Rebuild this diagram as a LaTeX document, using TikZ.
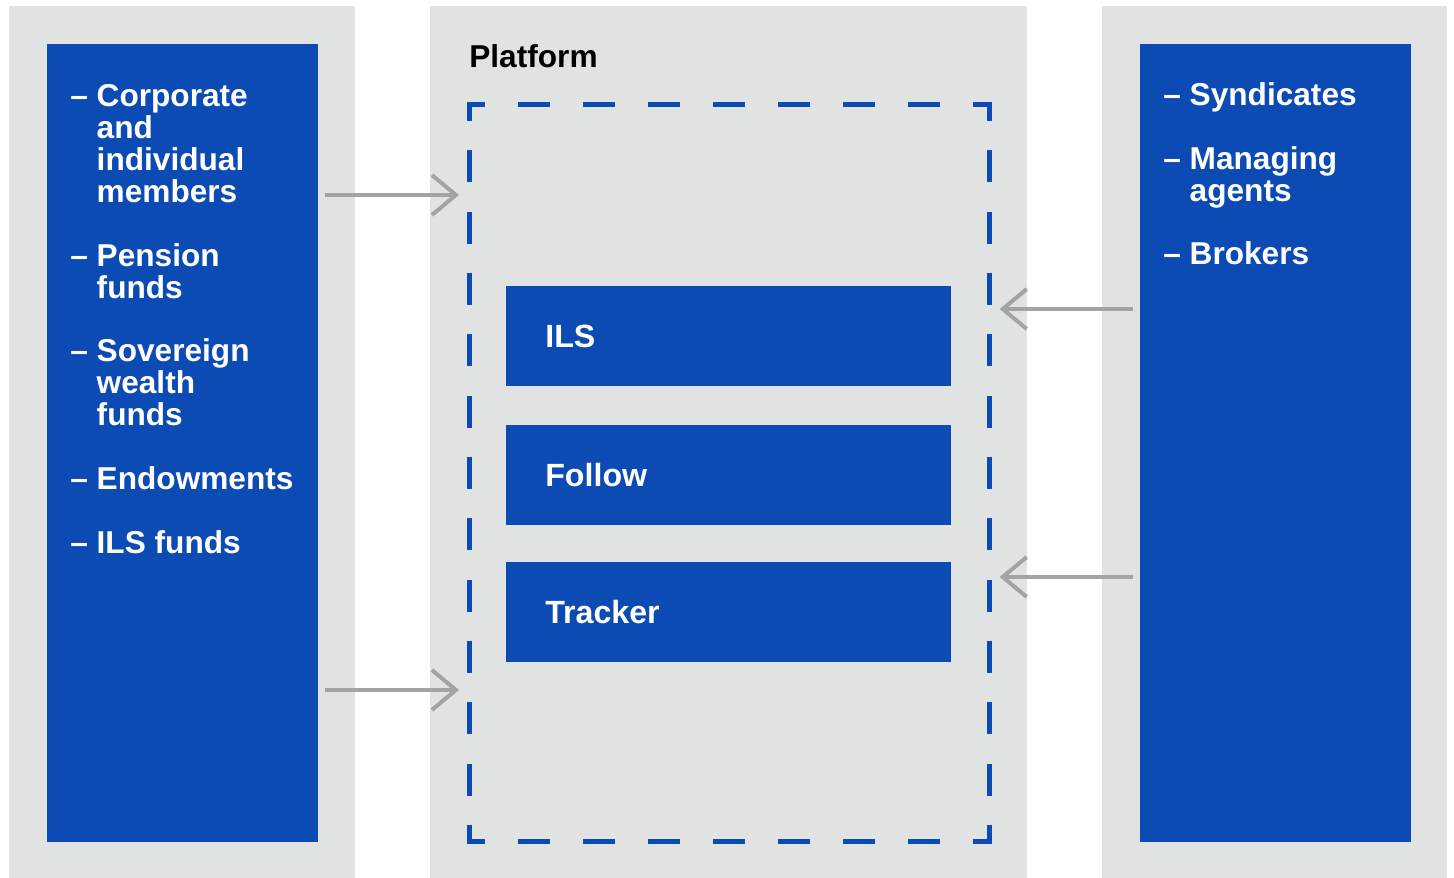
\documentclass[tikz,border=0pt]{standalone}
\usepackage{fontspec}
\setmainfont{Liberation Sans}
\usetikzlibrary{positioning, arrows.meta}

\definecolor{panelgray}{HTML}{E1E3E3}
\definecolor{deepblue}{HTML}{0C4AB4}
\definecolor{arrowgray}{HTML}{A3A3A3}

\newcommand{\hang}{\hphantom{–~}} % indent for wrapped list lines

\begin{document}
\begin{tikzpicture}[
            x = 0.02cm, y = -0.02cm, % one unit = one pixel, y downwards
            > = {Straight Barb[length=0.48cm, width=0.8cm]}, % open arrow head
            line join = miter
            , every text node part/.style={align=left} % text alignment
        ]

        \tikzstyle{backdrop}=[fill = panelgray]
        \tikzstyle{panel}=[
            fill = deepblue,
            inner sep = 0pt,
            anchor = north west,
            minimum width = 5.42cm,
            minimum height = 15.96cm
        ]
        \tikzstyle{listing}=[
            text = white,
            inner sep = 0pt,
            anchor = base west, % base = last line
            font = \fontsize{18}{18.14}\selectfont\bfseries
        ]
        \tikzstyle{product}=[
            fill = deepblue,
            text = white,
            minimum width = 8.9cm,
            minimum height = 2cm,
            text width = 7.34cm,
            inner xsep = 0.78cm,
            inner ysep = 0pt,
            font = \fontsize{18.3}{20}\selectfont\bfseries
        ]
        \tikzstyle{frame}=[draw = deepblue, line width = 0.1cm, line cap = rect]
        \tikzstyle{hdash}=[dash pattern = on 0.55cm off 0.75cm, dash phase = 0.275cm]
        \tikzstyle{vdash}=[dash pattern = on 0.54cm off 0.6867cm, dash phase = 0.27cm]
        \tikzstyle{flow}=[->, draw = arrowgray, line width = 0.08cm, shorten > = 0.2cm]

        \useasboundingbox (0,0) rectangle (1454,878);

        % grey columns
        \fill[backdrop] (9,6) rectangle (355,878);
        \fill[backdrop] (430,6) rectangle (1027,878);
        \fill[backdrop] (1102,6) rectangle (1447,878);

        % blue side panels
        \node[panel] (investors) at (47,44) {};
        \node[panel] (market) at (1140,44) {};

        \node[listing] (buyers) at (70,553) {–~Corporate\\ \hang and\\ \hang individual\\ \hang members\\[18.14pt]
            –~Pension\\ \hang funds\\[18.14pt]
            –~Sovereign\\ \hang wealth\\ \hang funds\\[18.14pt]
            –~Endowments\\[18.14pt]
            –~ILS funds};
        \node[listing] (sellers) at (1163,265) {–~Syndicates\\[18.14pt]
            –~Managing\\ \hang agents\\[18.14pt]
            –~Brokers};

        % platform with its products
        \node[listing, text = black] (title) at (469,68) {Platform};
        \node[inner sep = 0pt, anchor = north west, minimum width = 10.4cm, minimum height = 14.72cm] (platform) at (469,105) {};

        \node[product, anchor = north west] (ils) at (506,286) {ILS};
        \node[product, below = 0.75cm of ils] (follow) {Follow};
        \node[product, below = 0.73cm of follow] (tracker) {Tracker};

        \draw[frame, hdash] (platform.north west) -- (platform.north east);
        \draw[frame, hdash] (platform.south west) -- (platform.south east);
        \draw[frame, vdash] (platform.north west) -- (platform.south west);
        \draw[frame, vdash] (platform.north east) -- (platform.south east);

        % arrows into the platform
        \coordinate (in1) at (325,195);
        \coordinate (in2) at (325,690);
        \coordinate (in3) at (1133,309);
        \coordinate (in4) at (1133,577);

        \draw[flow] (in1) -- (in1 -| platform.west);
        \draw[flow] (in2) -- (in2 -| platform.west);
        \draw[flow] (in3) -- (in3 -| platform.east);
        \draw[flow] (in4) -- (in4 -| platform.east);

    \end{tikzpicture}
\end{document}
